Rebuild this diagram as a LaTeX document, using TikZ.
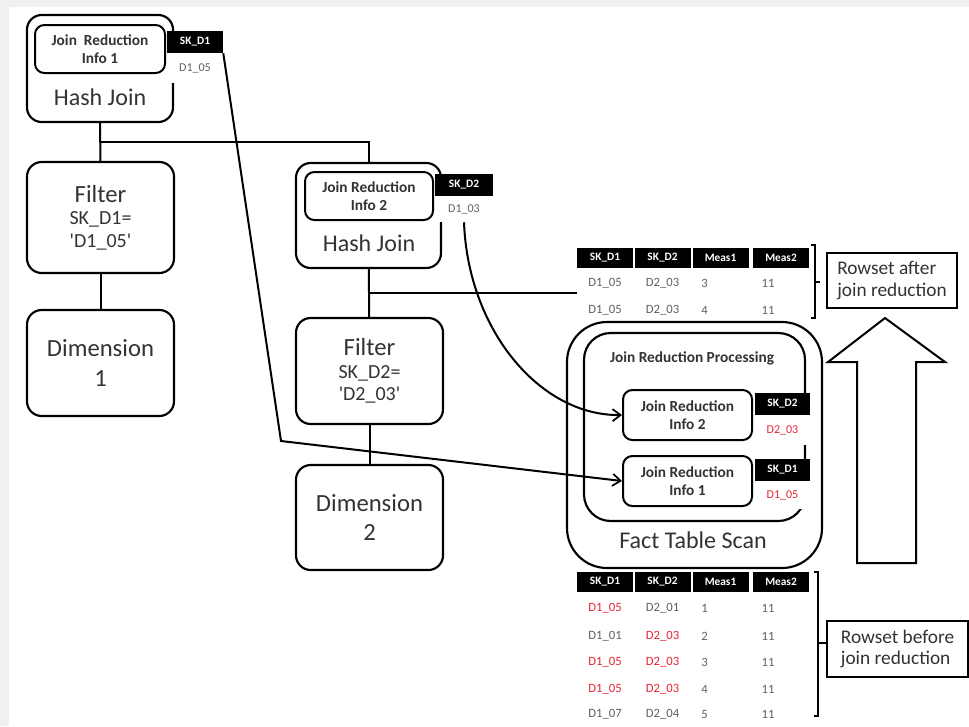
\documentclass[tikz,border=0pt]{standalone}
\usepackage{fontspec}
\setmainfont{Carlito}
\usetikzlibrary{arrows.meta}
\definecolor{ink}{gray}{0.2}
\definecolor{cellink}{gray}{0.38}
\definecolor{hit}{RGB}{232,36,52}
\newcommand{\cond}[1]{{\fontsize{15}{16}\selectfont #1}}
\tikzset{
  sz/.style 2 args={minimum width=#1*0.75pt, minimum height=#2*0.75pt},
  opbox/.style={draw, line width=1.6pt, rounded corners=11pt, inner sep=0pt, align=center, text=ink},
  infobox/.style={draw, line width=1.5pt, rounded corners=7pt, inner sep=0pt, align=center, text=ink, font=\bfseries\fontsize{11.5}{13}\selectfont},
  skhead/.style={fill=black, text=white, inner sep=0pt, sz={56}{22}, font=\bfseries\fontsize{8.5}{9}\selectfont},
  skval/.style={fill=white, inner sep=0pt, text=cellink, font=\fontsize{9}{10}\selectfont},
  hdr/.style={fill=black, text=white, inner sep=0pt, sz={56}{20}, font=\bfseries\fontsize{8.5}{9}\selectfont},
  cell/.style={inner sep=0pt, font=\fontsize{9.5}{10}\selectfont},
  note/.style={draw, line width=1.5pt, inner sep=0pt, align=left, text=ink, font=\fontsize{14.5}{16}\selectfont},
  link/.style={line width=1.5pt},
  flow/.style={line width=1.5pt, -{Straight Barb[length=6pt,width=9pt,line width=1.3pt]}}
}

\begin{document}
\begin{tikzpicture}[x=0.75pt, y=-0.75pt]
% backdrop
\fill[gray!12] (0,0) rectangle (969,726);
\fill[white] (9,7) rectangle (969,726);
\useasboundingbox (0,0) rectangle (969,726);

% dimension 1 branch
\node[opbox, sz={146}{107}] (hj1) at (100,68.5) {};
\node[infobox, sz={130}{48}] (jr1) at (100,49) {Join\ \ Reduction\\Info 1};
\node[text=ink, font=\fontsize{18}{20}\selectfont] (hjt1) at (100,97) {Hash Join};
\node[skhead] (sk1) at (195,42) {SK\_D1};
\node[skval, sz={56}{30}] (v1) at (195,68) {D1\_05};
\node[opbox, sz={147}{111}, font=\fontsize{18.5}{17}\selectfont] (flt1) at (100.5,217.5) {Filter\\\cond{SK\_D1=}\\\cond{\textquotesingle D1\_05\textquotesingle}};
\node[opbox, sz={147}{106}, font=\fontsize{18.5}{22}\selectfont] (dim1) at (100.5,363) {Dimension\\1};

% dimension 2 branch
\node[opbox, sz={145}{105}] (hj2) at (368.5,215.5) {};
\node[infobox, sz={128}{48}] (jr2) at (369,196) {Join Reduction\\Info 2};
\node[text=ink, font=\fontsize{18}{20}\selectfont] (hjt2) at (369,243) {Hash Join};
\node[skhead, sz={58}{22}] (sk2) at (464,185) {SK\_D2};
\node[skval, sz={58}{26}] (v2) at (464,209) {D1\_03};
\node[opbox, sz={147}{106}, font=\fontsize{18.5}{17}\selectfont] (flt2) at (369.5,371) {Filter\\\cond{SK\_D2=}\\\cond{\textquotesingle D2\_03\textquotesingle}};
\node[opbox, sz={147}{105}, font=\fontsize{18.5}{22}\selectfont] (dim2) at (369.5,517.5) {Dimension\\2};

\draw[link] (hj1) -- coordinate (j1) (flt1);
\draw[link] (j1) -| (hj2);
\draw[link] (flt1) -- (dim1);
\draw[link] (hj2) -- coordinate (j2) (flt2);
\draw[link] (flt2) -- (dim2);

% fact table scan
\node[opbox, sz={255}{246}, rounded corners=30pt] (fts) at (694.5,445) {};
\node[opbox, sz={221}{188}, rounded corners=20pt] (jrp) at (694.5,427) {};
\node[text=ink, font=\bfseries\fontsize{11.5}{13}\selectfont] (jrpt) at (692,358) {Join Reduction Processing};
\node[text=ink, font=\fontsize{18}{20}\selectfont] (ftst) at (693,540) {Fact Table Scan};
\node[infobox, sz={129}{50}] (jri2) at (687.5,415) {Join Reduction\\Info 2};
\node[skhead, sz={55}{22}] (sk3) at (782.5,404) {SK\_D2};
\node[skval, text=hit, sz={55}{30}] (v3) at (782.5,430) {D2\_03};
\node[infobox, sz={129}{50}] (jri1) at (687.5,481) {Join Reduction\\Info 1};
\node[skhead, sz={55}{22}] (sk4) at (782.5,470) {SK\_D1};
\node[skval, text=hit, sz={55}{28}] (v4) at (782.5,495) {D1\_05};

% pushed-down filters
\coordinate (bend1) at (281,441);
\draw[flow] (sk1.south east) -- (bend1) -- (jri1.west);
\draw[flow] (v2.south) .. controls (468,330) and (540,416) .. (jri2.west);

% rowset after join reduction
\foreach \x/\t [count=\i] in {605/SK\_D1, 662.5/SK\_D2, 720.5/Meas1, 781/Meas2}
  \node[hdr] (ah\i) at (\x,258) {\t};
\foreach \y/\a/\b/\m [count=\r] in {283/D1\_05/D2\_03/3, 310/D1\_05/D2\_03/4} {
  \node[cell, text=cellink] (a\r-1) at (605,\y) {\a};
  \node[cell, text=cellink] (a\r-2) at (662.5,\y) {\b};
  \node[cell, text=cellink, anchor=west] (a\r-3) at (701,\y) {\m};
  \node[cell, text=cellink] (a\r-4) at (768,\y) {11};
}
\draw[link] (j2) -- (j2 -| ah1.west);
\draw[line width=1.3pt] (811,245) -- (815,245) -- (815,318) -- (811,318) (815,282) -- (820,282);
\node[note, sz={130}{55}] (na) at (892,280.5) {Rowset after\\join reduction};

% rowset before join reduction
\foreach \x/\t [count=\i] in {605/SK\_D1, 662.5/SK\_D2, 720.5/Meas1, 781/Meas2}
  \node[hdr] (bh\i) at (\x,581.5) {\t};
\foreach \y/\a/\ca/\b/\cb/\m [count=\r] in {608/D1\_05/hit/D2\_01/cellink/1, 636/D1\_01/cellink/D2\_03/hit/2, 662/D1\_05/hit/D2\_03/hit/3, 689/D1\_05/hit/D2\_03/hit/4, 714/D1\_07/cellink/D2\_04/cellink/5} {
  \node[cell, text=\ca] (b\r-1) at (605,\y) {\a};
  \node[cell, text=\cb] (b\r-2) at (662.5,\y) {\b};
  \node[cell, text=cellink, anchor=west] (b\r-3) at (701,\y) {\m};
  \node[cell, text=cellink] (b\r-4) at (768,\y) {11};
}
\node[note, sz={141}{56}] (nb) at (897.5,649) {Rowset before\\join reduction};
\coordinate (brk) at (818,643);
\draw[line width=1.3pt] (814,572) -- (818,572) -- (818,716) -- (814,716);
\draw[line width=1.3pt] (brk) -- (brk -| nb.west);

% big arrow
\draw[line width=1.5pt, fill=white] (857,563) -- (857,362) -- (828,362) -- (885,318) -- (945,362) -- (916,362) -- (916,563) -- cycle;
\end{tikzpicture}
\end{document}
